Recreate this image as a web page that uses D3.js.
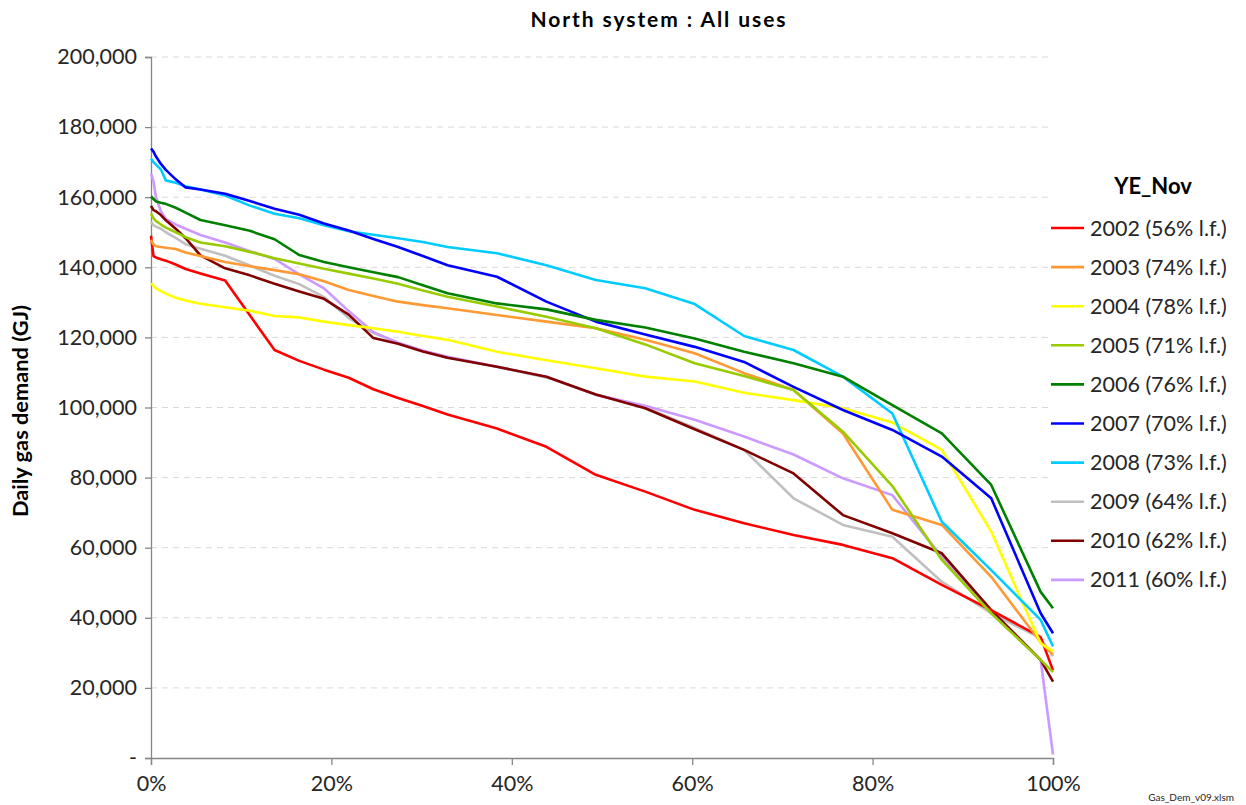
<!DOCTYPE html>
<html><head><meta charset="utf-8">
<script src="https://cdn.jsdelivr.net/npm/d3@7"></script>
<style>
html,body{margin:0;padding:0;background:#fff;}
svg{display:block;font-family:Lato,"Open Sans",sans-serif;}
</style></head>
<body><svg id="c" width="1246" height="805"></svg>
<script>
// Days of the year at which each duration-curve value was read
const days = [0,1,2,4,6,10,14,20,30,40,50,60,70,80,90,100,110,120,140,160,180,200,220,240,260,280,300,320,340,360,365];
const seriesNames = ["2002 (56% l.f.)","2003 (74% l.f.)","2004 (78% l.f.)","2005 (71% l.f.)","2006 (76% l.f.)","2007 (70% l.f.)","2008 (73% l.f.)","2009 (64% l.f.)","2010 (62% l.f.)","2011 (60% l.f.)"];
const seriesColors = ["#ff0000","#ff9933","#ffff00","#99cc00","#008000","#0000ff","#00ccff","#c0c0c0","#800000","#cc99ff"];
// Daily gas demand, thousands of GJ
const y2002 = [149,143.2,142.8,142.3,141.9,140.8,139.5,138.2,136.2,126.3,116.4,113.3,110.8,108.5,105.2,102.7,100.4,98,94,88.8,80.8,76,70.8,67,63.6,60.8,57,49.4,42.2,34.5,25];
const y2003 = [147.8,146.5,146,145.8,145.6,145.2,144.2,143.2,141.5,140.3,139.2,138,136,133.5,131.8,130.2,129.2,128.3,126.4,124.5,122.6,119.3,115.5,109.8,105,92.6,70.8,66.5,51.7,33,29.5];
const y2004 = [135.4,134.8,134,133.2,132.5,131.3,130.5,129.6,128.6,127.6,126.1,125.7,124.5,123.5,122.6,121.6,120.4,119.3,115.9,113.5,111.2,108.8,107.4,104.2,102.1,99.8,95.7,87.9,64.6,32.7,30.5];
const y2005 = [155.4,154,153.2,152.2,151.3,150,148.6,147.1,146,144.4,142.6,141.1,139.6,138.2,136.8,135.3,133.4,131.6,128.8,125.9,122.6,118,112.6,109,105,93.1,77.6,56.5,41.3,28,24.5];
const y2006 = [160.2,159.5,158.8,158.4,158.1,157,155.6,153.5,152,150.4,148,143.5,141.5,140,138.6,137.2,134.9,132.6,129.7,128,125,122.8,119.7,115.9,112.6,108.8,100.7,92.6,77.9,47.4,42.7];
const y2007 = [173.9,173,171.6,169.5,167.8,165.1,162.8,162.2,161,158.9,156.7,155,152.5,150.5,148.1,145.8,143.2,140.6,137.3,130.2,124.5,120.8,117.3,113,105.9,99.3,93.6,86,74.1,41.3,35.6];
const y2008 = [171,170,169.3,167.9,164.8,164.1,163.1,162.2,160.5,157.6,155.3,154,152,150.3,149.3,148.3,147.2,145.8,144,140.6,136.4,134,129.5,120.4,116.4,108.8,98.3,67.4,53.6,39.4,31.8];
const y2009 = [153,152,151.6,151,150,148.4,146.6,145.3,143.3,140.5,137.6,135.2,131.5,125.5,121.3,118.4,116.2,114.3,111.6,108.6,103.8,100,94.2,87.9,74.1,66.5,63.1,50.3,41.3,34.2,29];
const y2010 = [157.5,156.3,156,154.9,153.4,151,148.3,143.4,139.7,137.7,135.3,133.1,131,126.5,119.8,118.2,116,114.2,111.6,108.8,103.7,99.8,93.8,87.9,81.2,69.3,64.1,58.4,42.2,28,21.8];
const y2011 = [166.8,164.5,160,156,153.8,152.2,151,149.2,147.1,144.6,142.4,138,134,127.5,121.5,118.5,116.2,114.5,111.6,108.8,103.6,100.5,96.5,91.7,86.6,79.8,75,57.4,41.3,28,1];
const seriesValues = [y2002,y2003,y2004,y2005,y2006,y2007,y2008,y2009,y2010,y2011];
const yTicks = [0,20000,40000,60000,80000,100000,120000,140000,160000,180000,200000];
const xTicks = [0,0.2,0.4,0.6,0.8,1.0];
const titleText = "North system : All uses";
const yAxisTitle = "Daily gas demand (GJ)";
const legendTitle = "YE_Nov";
const footnote = "Gas_Dem_v09.xlsm";

(function(){
const svg = d3.select("#c");
const pL = 151, pR = 1053, pT = 57, pB = 758;
const x = d3.scaleLinear().domain([0,1]).range([pL,pR]);
const y = d3.scaleLinear().domain([0,200000]).range([pB,pT]);
const axisCol = "#868686";
const txtCol = "#262626";

// gridlines
svg.append("g").selectAll("line").data(yTicks.filter(d=>d>0)).join("line")
  .attr("x1",pL).attr("x2",pR).attr("y1",d=>y(d)).attr("y2",d=>y(d))
  .attr("stroke","#d9d9d9").attr("stroke-width",1).attr("stroke-dasharray","6,5");

// y axis
const fmt = d => d===0 ? "-" : d3.format(",")(d);
const ya = svg.append("g").attr("transform",`translate(${pL},0)`)
  .call(d3.axisLeft(y).tickValues(yTicks).tickFormat(fmt).tickSize(6).tickPadding(8));
ya.select(".domain").attr("stroke",axisCol).attr("stroke-width",1.3);
ya.selectAll(".tick line").attr("stroke",axisCol).attr("stroke-width",1.3);
ya.selectAll(".tick text").attr("font-family","Lato, sans-serif").attr("font-size",21.5).attr("fill",txtCol);

// x axis
const xa = svg.append("g").attr("transform",`translate(0,${pB})`)
  .call(d3.axisBottom(x).tickValues(xTicks).tickFormat(d3.format(".0%")).tickSize(7).tickPadding(11));
xa.select(".domain").attr("stroke",axisCol).attr("stroke-width",1.3);
xa.selectAll(".tick line").attr("stroke",axisCol).attr("stroke-width",1.3);
xa.selectAll(".tick text").attr("font-family","Lato, sans-serif").attr("font-size",21.5).attr("fill",txtCol);

// lines
const line = d3.line().x(d=>x(d[0]/365)).y(d=>y(d[1]*1000));
const order = [7,9,8,0,1,2,3,6,5,4];
order.forEach(i=>{
  svg.append("path").datum(days.map((d,j)=>[d,seriesValues[i][j]]))
    .attr("d",line).attr("fill","none").attr("stroke",seriesColors[i])
    .attr("stroke-width",2.6).attr("stroke-linejoin","round");
});

// title
svg.append("text").attr("x",658).attr("y",27).attr("text-anchor","middle")
  .attr("font-size",21).attr("font-weight","bold").attr("fill","#000")
  .attr("textLength",255).attr("lengthAdjust","spacing").text(titleText);
// y axis title
svg.append("text").attr("transform","translate(28,411) rotate(-90)").attr("text-anchor","middle")
  .attr("font-size",20).attr("font-weight","bold").attr("fill","#000")
  .attr("textLength",212).attr("lengthAdjust","spacingAndGlyphs").text(yAxisTitle);

// legend
svg.append("text").attr("x",1153).attr("y",194).attr("text-anchor","middle")
  .attr("font-size",22).attr("font-weight","bold").attr("fill","#000").text(legendTitle);
const lg = svg.append("g").selectAll("g").data(seriesNames).join("g")
  .attr("transform",(d,i)=>`translate(1051,${228+i*39.1})`);
lg.append("line").attr("x1",0).attr("x2",33).attr("y1",0).attr("y2",0)
  .attr("stroke",(d,i)=>seriesColors[i]).attr("stroke-width",2.6);
lg.append("text").attr("x",39).attr("y",7.5).attr("font-size",21.5).attr("fill",txtCol).text(d=>d);

// footnote
svg.append("text").attr("x",1234).attr("y",801).attr("text-anchor","end")
  .attr("font-size",10).attr("fill",txtCol).text(footnote);
})();
</script></body></html>
